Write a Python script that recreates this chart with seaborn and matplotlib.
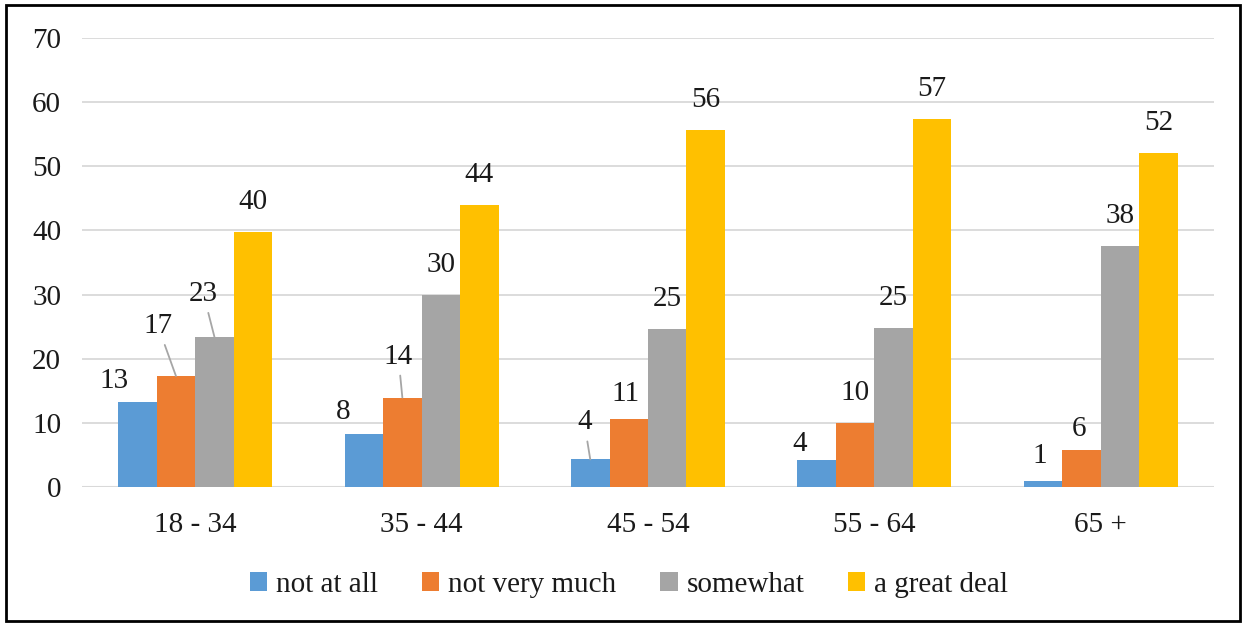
import pandas as pd
import matplotlib.pyplot as plt
import seaborn as sns
from matplotlib.patches import Rectangle

# =========================
# DATA
# =========================

age_groups = ["18 - 34", "35 - 44", "45 - 54", "55 - 64", "65 +"]
responses = ["not at all", "not very much", "somewhat", "a great deal"]

not_at_all = [13.2, 8.3, 4.3, 4.2, 0.9]
not_very_much = [17.3, 13.95, 10.6, 9.9, 5.7]
somewhat = [23.4, 29.95, 24.7, 24.8, 37.6]
great_deal = [39.8, 43.9, 55.7, 57.4, 52.0]

colors = ["#5B9BD5", "#ED7D31", "#A5A5A5", "#FFC000"]

df = pd.DataFrame({
    "age": age_groups * 4,
    "response": [r for r in responses for _ in age_groups],
    "value": not_at_all + not_very_much + somewhat + great_deal,
})

# label placement (pixels from bar top); default is centred above
label_offsets = {
    (0, 0): (-23, 21, False),
    (0, 1): (-18, 50, True),
    (0, 2): (-11, 43, True),
    (1, 0): (-21, 22, False),
    (1, 1): (-4, 41, True),
    (2, 0): (-6, 37, True),
    (2, 1): (-3, 25, False),
    (3, 0): (-17, 16, False),
    (4, 0): (-3, 25, False),
    (4, 1): (-3, 21, False),
}

FS = 21

# =========================
# PLOT
# =========================

sns.set_theme(style="white")
plt.rcParams["font.family"] = ["Liberation Serif", "DejaVu Serif"]

fig = plt.figure(figsize=(12.44, 6.24), dpi=100)
ax = fig.add_axes([82 / 1244, 1 - 487 / 624, 1132 / 1244, 449 / 624])

sns.barplot(data=df, x="age", y="value", hue="response",
            palette=colors, width=0.68, saturation=1, ax=ax,
            edgecolor="none", legend=True)

ax.set_ylim(0, 70)
ax.set_yticks(range(0, 71, 10))
ax.yaxis.grid(True, color="#D9D9D9", linewidth=1.3)
ax.set_axisbelow(True)
for s in ["top", "right", "left", "bottom"]:
    ax.spines[s].set_visible(False)
ax.axhline(0, color="#D9D9D9", linewidth=1.5, zorder=0)
ax.set_xlabel("")
ax.set_ylabel("")
ax.tick_params(axis="y", length=0, pad=15, labelsize=FS, labelcolor="#1a1a1a")
ax.tick_params(axis="x", length=0, pad=18, labelsize=FS, labelcolor="#1a1a1a")

# data labels
for j, cont in enumerate(ax.containers):
    for i, bar in enumerate(cont.patches):
        h = bar.get_height()
        cx = bar.get_x() + bar.get_width() / 2
        dx, dy, leader = label_offsets.get((i, j), (0, 30, False))
        arrow = None
        if leader:
            arrow = dict(arrowstyle="-", color="#A6A6A6", lw=1.3,
                         shrinkA=2, shrinkB=0)
        ax.annotate(f"{h:.0f}", xy=(cx, h), xytext=(dx, dy),
                    textcoords="offset pixels", ha="center", va="center",
                    fontsize=FS, color="#1a1a1a", arrowprops=arrow)

# legend
handles, labels = ax.get_legend_handles_labels()
ax.get_legend().remove()
fig.legend(handles, labels, loc="center", bbox_to_anchor=(629 / 1244, 1 - 585 / 624),
           ncol=4, frameon=False, fontsize=FS, handlelength=0.6,
           handleheight=0.6, handletextpad=0.3, columnspacing=1.5,
           labelcolor="#1a1a1a")

# outer border
fig.patches.append(Rectangle((6 / 1244, 3 / 624), 1234 / 1244, 616 / 624,
                             transform=fig.transFigure, fill=False,
                             edgecolor="black", linewidth=2))

fig.savefig("out.png", dpi=100)
